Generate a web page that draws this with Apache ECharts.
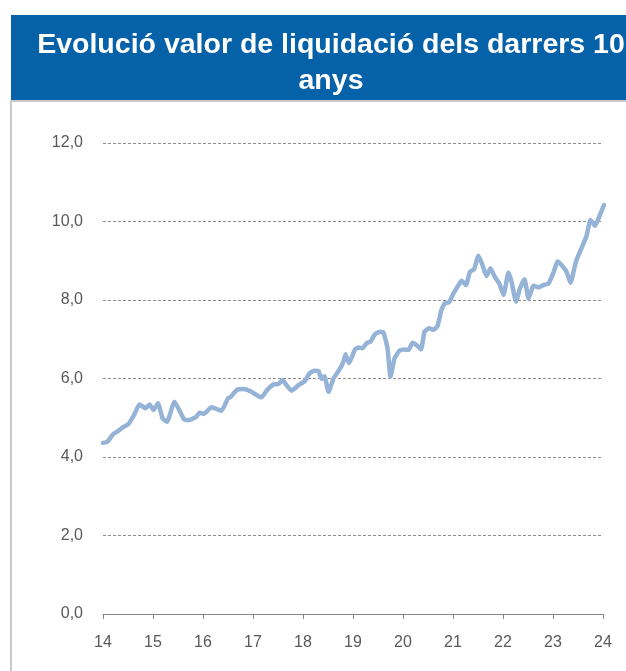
<!DOCTYPE html>
<html>
<head>
<meta charset="utf-8">
<script src="https://cdn.jsdelivr.net/npm/echarts@6/dist/echarts.min.js"></script>
<style>
html,body{margin:0;padding:0;background:#fff;}
#chart{width:626px;height:671px;}
</style>
</head>
<body>
<div id="chart"></div>
<script>
var titleLines = ["Evolució valor de liquidació dels darrers 10", "anys"];
var yearTicks = [14, 15, 16, 17, 18, 19, 20, 21, 22, 23, 24];
var valueTicks = [0, 2, 4, 6, 8, 10, 12];
var dates = [
14.00,14.09,14.20,14.30,14.40,14.51,14.62,14.73,14.85,14.93,
15.01,15.10,15.19,15.28,15.43,15.62,15.73,15.87,15.93,
16.02,16.17,16.37,16.50,16.54,16.69,16.81,16.94,
17.07,17.17,17.29,17.41,17.51,17.59,17.67,17.77,17.91,
18.04,18.13,18.23,18.31,18.37,18.43,18.51,18.61,18.73,18.81,18.85,18.92,
19.04,19.11,19.19,19.27,19.35,19.44,19.54,19.61,19.69,19.75,19.83,19.93,
20.02,20.11,20.19,20.27,20.36,20.43,20.52,20.61,20.69,20.77,20.84,20.92,
21.01,21.11,21.17,21.26,21.34,21.42,21.51,21.59,21.67,21.75,21.84,21.93,
22.01,22.11,22.17,22.26,22.34,22.43,22.51,22.61,22.71,22.81,22.91,
23.01,23.09,23.17,23.27,23.35,23.46,23.57,23.67,23.75,23.84,23.94,24.02
];
var values = [
4.36,4.39,4.58,4.66,4.76,4.84,5.07,5.34,5.24,5.34,
5.20,5.37,4.99,4.90,5.41,4.96,4.94,5.03,5.13,
5.10,5.27,5.18,5.50,5.52,5.72,5.73,5.68,
5.58,5.52,5.72,5.85,5.86,5.96,5.83,5.69,5.83,
5.94,6.13,6.20,6.19,5.99,6.06,5.66,6.00,6.23,6.43,6.62,6.39,
6.74,6.79,6.77,6.90,6.94,7.13,7.19,7.17,6.77,6.05,6.51,6.71,
6.74,6.73,6.91,6.85,6.74,7.19,7.28,7.24,7.34,7.75,7.92,7.94,
8.17,8.38,8.49,8.38,8.72,8.78,9.13,8.89,8.61,8.81,8.58,8.41,
8.13,8.70,8.47,7.96,8.30,8.53,8.04,8.36,8.32,8.38,8.42,
8.70,8.98,8.89,8.72,8.44,8.98,9.32,9.63,10.04,9.89,10.17,10.42
];

var seriesData = dates.map(function (d, i) { return [d, values[i]]; });

var chart = echarts.init(document.getElementById('chart'), null, {renderer: 'canvas'});
chart.setOption({
  backgroundColor: '#ffffff',
  animation: false,
  graphic: [
    {type: 'rect', left: 11, top: 15, shape: {width: 615, height: 85}, style: {fill: '#0561a8'}, z: -1},
    {type: 'rect', left: 10, top: 100, shape: {width: 616, height: 2}, style: {fill: '#c9c9c9'}, z: -1},
    {type: 'rect', left: 10, top: 100, shape: {width: 2, height: 571}, style: {fill: '#c9c9c9'}, z: -1}
  ],
  title: {
    text: titleLines.join('\n'),
    left: 326,
    top: 22,
    textAlign: 'center',
    textStyle: {
      color: '#ffffff',
      fontFamily: 'Liberation Sans',
      fontWeight: 'bold',
      fontSize: 28.5,
      lineHeight: 36
    }
  },
  grid: {left: 103, right: 23, top: 143, bottom: 57, containLabel: false},
  xAxis: {
    type: 'value',
    min: yearTicks[0],
    max: yearTicks[yearTicks.length - 1],
    interval: 1,
    axisLine: {show: true, lineStyle: {color: '#868686', width: 1}},
    axisTick: {show: true, length: 5, lineStyle: {color: '#868686'}},
    axisLabel: {color: '#595959', fontSize: 16, fontFamily: 'Liberation Sans', margin: 21,
      formatter: function (v) { return String(Math.round(v)); }},
    splitLine: {show: false}
  },
  yAxis: {
    type: 'value',
    min: valueTicks[0],
    max: valueTicks[valueTicks.length - 1],
    interval: 2,
    axisLine: {show: false},
    axisTick: {show: false},
    axisLabel: {color: '#595959', fontSize: 16, fontFamily: 'Liberation Sans', margin: 20,
      formatter: function (v) { return v.toFixed(1).replace('.', ','); }},
    splitLine: {show: true, lineStyle: {color: '#8c8c8c', width: 1, type: [3, 2]}}
  },
  series: [{
    type: 'line',
    data: seriesData,
    showSymbol: false,
    smooth: 0.15,
    lineStyle: {color: '#95b3d7', width: 4.5, cap: 'round', join: 'round'},
    itemStyle: {color: '#95b3d7'}
  }]
});
</script>
</body>
</html>
